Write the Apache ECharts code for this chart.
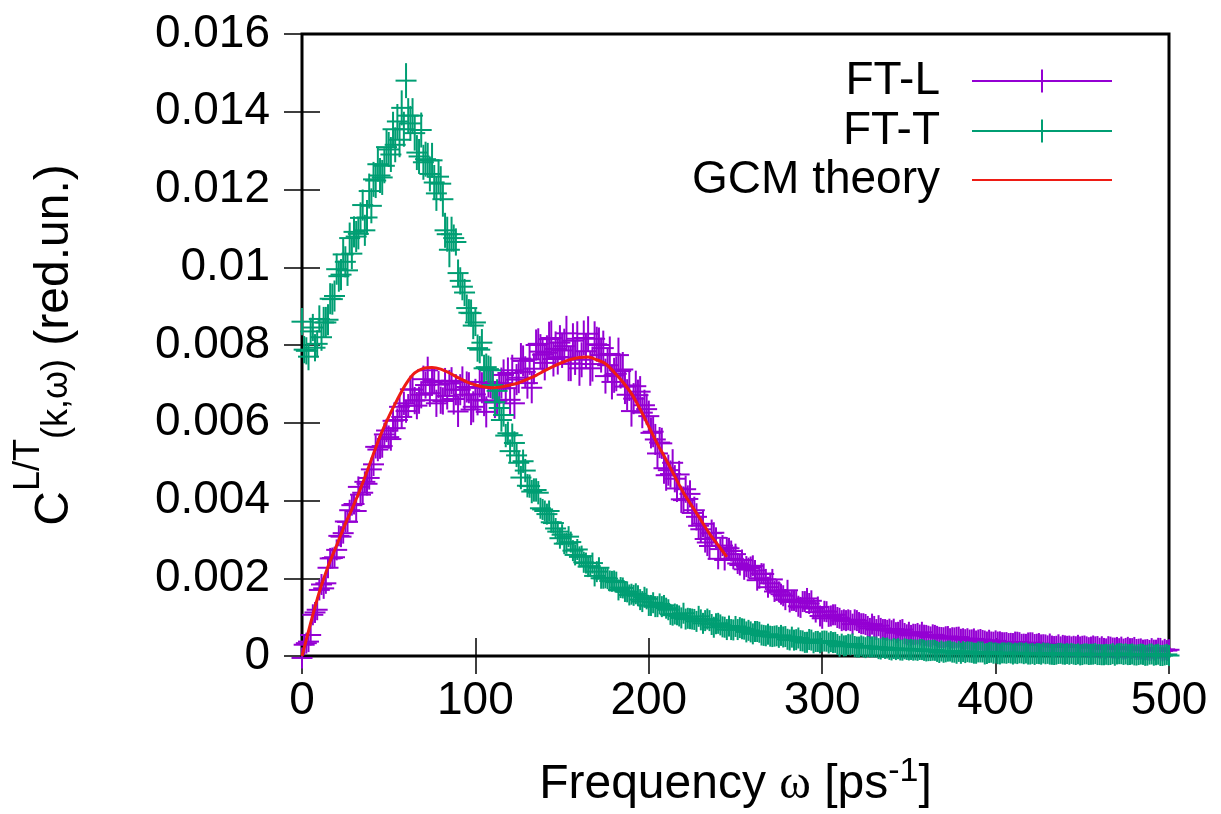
<!DOCTYPE html>
<html>
<head>
<meta charset="utf-8">
<title>C L/T (k,w) spectra</title>
<script src="https://cdn.jsdelivr.net/npm/echarts@6/dist/echarts.min.js"></script>
<style>
html, body { margin: 0; padding: 0; background: #fff; }
#chart { width: 1221px; height: 814px; }
</style>
</head>
<body>
<div id="chart"></div>
<script>
// MD spectra, values in units of 1e-3 (red.un.)
// main arrays sampled at 0, 2.5, 5 ... 500 ps^-1, "Half" arrays at 1.25, 3.75 ... 498.75
var omegaStep = 2.5;
var UNIT = 1e-3;

var ftL = [
  -0.05, 0.33, 0.54, 1.12, 1.7, 1.74, 2.27, 2.52, 2.73, 3.07,
  3.46, 3.75, 3.91, 4.35, 4.2, 4.43, 4.8, 5.38, 5.37, 5.7,
  5.63, 6.05, 6.07, 6.15, 6.3, 6.86, 6.57, 6.58, 7.12, 7.35,
  7.04, 6.5, 6.58, 7.06, 7.01, 6.61, 6.29, 7.05, 6.92, 6.34,
  6.73, 7.05, 6.57, 7.05, 7.0, 6.57, 7.02, 6.89, 6.59, 6.5,
  7.16, 7.59, 7.02, 6.9, 8.0, 7.83, 7.54, 8.15, 7.64, 7.69,
  7.86, 8.3, 7.52, 7.68, 7.4, 8.18, 8.29, 7.51, 8.02, 7.74,
  7.2, 7.77, 7.22, 7.74, 7.37, 6.72, 6.3, 6.94, 6.8, 6.45,
  6.17, 5.77, 5.21, 5.47, 4.65, 4.68, 4.56, 4.67, 4.01, 4.04,
  3.68, 3.58, 3.26, 3.01, 2.83, 3.17, 2.5, 2.84, 2.79, 2.7,
  2.62, 2.34, 2.23, 2.26, 2.32, 1.95, 2.12, 1.97, 1.87, 1.66,
  1.65, 1.55, 1.69, 1.43, 1.4, 1.25, 1.4, 1.35, 1.22, 1.26,
  0.97, 1.14, 1.03, 1.06, 0.97, 0.93, 0.93, 0.82, 0.91, 0.83,
  0.81, 0.71, 0.76, 0.78, 0.68, 0.66, 0.65, 0.6, 0.66, 0.58,
  0.61, 0.56, 0.58, 0.61, 0.53, 0.49, 0.53, 0.48, 0.47, 0.5,
  0.47, 0.48, 0.43, 0.42, 0.41, 0.44, 0.41, 0.4, 0.36, 0.36,
  0.39, 0.365, 0.34, 0.32, 0.32, 0.355, 0.3, 0.3, 0.34, 0.295,
  0.32, 0.29, 0.26, 0.255, 0.25, 0.235, 0.26, 0.255, 0.25, 0.275,
  0.25, 0.235, 0.23, 0.235, 0.2, 0.195, 0.24, 0.205, 0.22, 0.228,
  0.195, 0.19, 0.22, 0.175, 0.15, 0.165, 0.19, 0.15, 0.195, 0.17,
  0.16
];
var ftLHalf = [
  0.29, 0.37, 1.06, 1.19, 1.84, 1.87, 2.51, 2.54, 3.09, 3.16,
  3.45, 3.88, 3.73, 4.15, 4.48, 4.58, 4.93, 5.31, 5.4, 5.8,
  5.58, 5.86, 6.41, 6.5, 6.44, 6.85, 6.44, 6.72, 6.97, 6.76,
  7.08, 6.98, 6.56, 6.69, 7.08, 6.85, 6.85, 6.72, 6.9, 6.41,
  6.59, 6.9, 6.28, 7.03, 6.52, 6.88, 7.23, 7.28, 7.35, 7.11,
  7.65, 7.31, 7.63, 7.39, 8.03, 7.75, 7.8, 8.18, 7.9, 8.06,
  7.97, 7.52, 8.11, 8.16, 7.62, 7.84, 7.4, 8.16, 8.0, 7.92,
  7.48, 7.05, 7.26, 7.33, 6.93, 6.96, 6.62, 6.71, 6.26, 6.35,
  5.74, 5.57, 5.49, 4.83, 4.78, 4.97, 4.31, 4.03, 4.29, 4.17,
  3.75, 3.35, 3.4, 2.92, 3.16, 3.04, 2.75, 2.47, 2.77, 2.5,
  2.38, 2.47, 2.3, 2.29, 2.2, 2.0, 2.11, 1.77, 1.97, 1.69,
  1.59, 1.45, 1.39, 1.43, 1.28, 1.4, 1.48, 1.42, 1.13, 1.03,
  1.15, 1.02, 1.06, 0.99, 0.91, 0.91, 0.91, 0.93, 0.86, 0.83,
  0.76, 0.82, 0.68, 0.71, 0.68, 0.69, 0.69, 0.61, 0.68, 0.545,
  0.53, 0.555, 0.54, 0.535, 0.51, 0.545, 0.505, 0.475, 0.495, 0.445,
  0.465, 0.485, 0.445, 0.445, 0.415, 0.385, 0.425, 0.385, 0.405, 0.355,
  0.358, 0.343, 0.345, 0.325, 0.358, 0.343, 0.305, 0.335, 0.338, 0.303,
  0.285, 0.285, 0.308, 0.243, 0.288, 0.273, 0.248, 0.233, 0.238, 0.233,
  0.258, 0.213, 0.258, 0.243, 0.238, 0.183, 0.228, 0.203, 0.189, 0.177,
  0.223, 0.19, 0.168, 0.183, 0.158, 0.143, 0.15, 0.198, 0.133, 0.14
];

var ftT = [
  8.6, 7.85, 8.35, 7.93, 8.67, 8.58, 8.65, 9.18, 9.95, 9.81,
  10.14, 10.75, 10.91, 10.86, 11.6, 11.28, 11.58, 12.23, 12.36, 12.61,
  13.03, 13.55, 13.75, 14.1, 14.8, 13.7, 13.45, 12.85, 12.7, 12.75,
  12.75, 11.9, 12.15, 10.95, 10.45, 10.75, 9.85, 9.5, 8.95, 8.82,
  8.58, 7.88, 7.4, 7.38, 6.97, 6.82, 6.07, 5.67, 5.27, 5.48,
  4.97, 5.01, 4.38, 4.23, 4.27, 3.8, 3.73, 3.73, 3.42, 3.2,
  3.12, 2.9, 2.93, 2.6, 2.55, 2.41, 2.3, 2.39, 2.17, 2.0,
  2.01, 1.93, 1.93, 1.7, 1.75, 1.65, 1.59, 1.6, 1.45, 1.51,
  1.3, 1.37, 1.27, 1.27, 1.23, 1.07, 1.08, 1.03, 1.1, 0.97,
  0.95, 0.89, 0.93, 0.91, 0.91, 0.74, 0.84, 0.75, 0.68, 0.68,
  0.76, 0.73, 0.69, 0.66, 0.57, 0.63, 0.54, 0.52, 0.51, 0.51,
  0.48, 0.49, 0.43, 0.485, 0.42, 0.395, 0.35, 0.425, 0.34, 0.375,
  0.38, 0.38, 0.37, 0.35, 0.25, 0.26, 0.3, 0.31, 0.23, 0.26,
  0.215, 0.23, 0.23, 0.19, 0.22, 0.205, 0.155, 0.165, 0.155, 0.185,
  0.155, 0.15, 0.145, 0.165, 0.13, 0.14, 0.145, 0.09, 0.095, 0.125,
  0.1, 0.07, 0.07, 0.088, 0.1, 0.072, 0.105, 0.103, 0.065, 0.097,
  0.08, 0.053, 0.079, 0.087, 0.05, 0.062, 0.079, 0.078, 0.05, 0.04,
  0.061, 0.078, 0.068, 0.044, 0.047, 0.069, 0.045, 0.044, 0.048, 0.056,
  0.037, 0.054, 0.044, 0.061, 0.037, 0.032, 0.035, 0.061, 0.051, 0.059,
  0.054, 0.039, 0.029, 0.037, 0.041, 0.022, 0.052, 0.033, 0.014, 0.027,
  0.012
];
var ftTHalf = [
  7.88, 7.7, 8.45, 8.03, 8.2, 8.58, 9.19, 9.26, 9.77, 10.33,
  9.92, 10.35, 10.79, 11.27, 10.95, 11.96, 12.26, 12.65, 12.31, 13.09,
  12.9, 13.15, 13.28, 13.55, 13.9, 13.9, 12.95, 13.53, 12.78, 12.4,
  12.18, 12.33, 11.75, 10.85, 10.85, 10.65, 9.65, 9.35, 8.83, 8.5,
  7.92, 8.06, 7.43, 7.35, 6.53, 6.38, 6.2, 5.73, 5.68, 5.16,
  4.59, 4.77, 4.37, 4.27, 4.2, 3.77, 3.65, 3.44, 3.28, 3.03,
  2.89, 3.07, 2.71, 2.74, 2.57, 2.39, 2.31, 2.06, 2.27, 2.0,
  1.99, 1.92, 1.9, 1.76, 1.66, 1.57, 1.56, 1.55, 1.4, 1.47,
  1.3, 1.27, 1.34, 1.3, 1.19, 1.05, 1.06, 0.98, 0.95, 0.96,
  0.94, 1.02, 0.84, 0.95, 0.81, 0.83, 0.8, 0.74, 0.77, 0.67,
  0.68, 0.7, 0.62, 0.62, 0.63, 0.61, 0.53, 0.56, 0.5, 0.52,
  0.53, 0.5, 0.413, 0.408, 0.463, 0.388, 0.353, 0.408, 0.373, 0.338,
  0.385, 0.335, 0.345, 0.295, 0.305, 0.265, 0.285, 0.245, 0.23, 0.235,
  0.245, 0.235, 0.23, 0.18, 0.195, 0.17, 0.193, 0.188, 0.15, 0.168,
  0.168, 0.158, 0.168, 0.145, 0.138, 0.148, 0.118, 0.128, 0.108, 0.128,
  0.098, 0.118, 0.114, 0.112, 0.094, 0.071, 0.104, 0.052, 0.089, 0.071,
  0.059, 0.08, 0.07, 0.077, 0.075, 0.083, 0.06, 0.05, 0.067, 0.066,
  0.047, 0.058, 0.048, 0.038, 0.064, 0.05, 0.062, 0.066, 0.038, 0.028,
  0.054, 0.039, 0.047, 0.037, 0.032, 0.044, 0.039, 0.02, 0.059, 0.04,
  0.035, 0.052, 0.024, 0.05, 0.017, 0.048, 0.02, 0.046, 0.013, 0.04
];

// error bar half heights, one per 25 ps^-1 block (0, 25, ... 500), units 1e-3
var ftLErr = [0.15, 0.25, 0.3, 0.35, 0.4, 0.4, 0.45, 0.45, 0.4, 0.35, 0.25, 0.2, 0.15, 0.1, 0.08, 0.06, 0.05, 0.04, 0.03, 0.03, 0.03];
var ftTErr = [0.35, 0.4, 0.45, 0.45, 0.35, 0.3, 0.25, 0.2, 0.15, 0.1, 0.08, 0.06, 0.05, 0.04, 0.03, 0.03, 0.03, 0.02, 0.02, 0.02, 0.02];

// GCM theory curve
var gcmOmega = [0, 5, 10, 15, 20, 25, 30, 35, 40, 45, 50, 55, 60, 65, 70, 75, 80, 85, 90, 95,
  100, 105, 110, 115, 120, 125, 130, 135, 140, 145, 150, 155, 160, 165, 170, 175, 180, 185, 190, 195,
  200, 205, 210, 215, 220, 225, 230, 235, 240, 245];
var gcmValue = [0, 0.85, 1.65, 2.3, 2.85, 3.4, 3.9, 4.45, 5.05, 5.65, 6.15, 6.6, 7.0, 7.28, 7.4, 7.42, 7.38, 7.28, 7.16, 7.05,
  6.97, 6.92, 6.9, 6.92, 6.97, 7.03, 7.12, 7.22, 7.34, 7.45, 7.55, 7.63, 7.68, 7.69, 7.62, 7.52, 7.3, 7.05, 6.75, 6.35,
  5.9, 5.45, 5.05, 4.62, 4.2, 3.85, 3.5, 3.15, 2.85, 2.55];

var FONT = '"Liberation Sans", Arial, Helvetica, sans-serif';
var colL = '#9400d3', colT = '#009e73', colG = '#ee1c14';

function toPoints(vals, half, errs) {
  var pts = [];
  function push(w, v) {
    pts.push([w, v * UNIT, errs[Math.round(w / 25)] * UNIT]);
  }
  vals.forEach(function (v, i) { push(i * omegaStep, v); });
  half.forEach(function (v, i) { push((i + 0.5) * omegaStep, v); });
  return pts;
}

// gnuplot-like "+" point with vertical error bar
function crossRenderer(color) {
  return function (params, api) {
    var w = api.value(0), v = api.value(1), e = api.value(2);
    var c = api.coord([w, v]);
    var hi = api.coord([w, v + e]);
    var lo = api.coord([w, v - e]);
    var arm = 10.5;
    var st = { stroke: color, lineWidth: 2 };
    return {
      type: 'group',
      children: [
        { type: 'line', shape: { x1: c[0] - arm, y1: c[1], x2: c[0] + arm, y2: c[1] }, style: st },
        { type: 'line', shape: { x1: c[0], y1: Math.min(hi[1], c[1] - arm), x2: c[0], y2: Math.max(lo[1], c[1] + arm) }, style: st }
      ]
    };
  };
}

var crossIcon = 'path://M0,0h0.01v0.01h-0.01Z M27,10.5h140v2h-140Z M96,0h2v23h-2Z';
var lineIcon = 'path://M0,0h0.01v0.01h-0.01Z M27,10.5h140v2h-140Z M0,22.99h0.01v0.01h-0.01Z';

function legendItem(name, icon, top) {
  return {
    data: [name],
    right: 109,
    top: top,
    align: 'right',
    padding: 0,
    icon: icon,
    itemWidth: 167,
    itemHeight: 23,
    selectedMode: false,
    textStyle: { fontFamily: FONT, fontSize: 46, color: '#000' }
  };
}

var tickStyle = { show: true, inside: true, length: 18, lineStyle: { color: '#000', width: 1.5 } };

var chart = echarts.init(document.getElementById('chart'), null, { renderer: 'canvas' });
var option = {
  animation: false,
  backgroundColor: '#fff',
  grid: {
    left: 302, top: 34, width: 867, height: 623,
    show: true, borderColor: '#000', borderWidth: 3, backgroundColor: 'transparent'
  },
  legend: [
    legendItem('FT-L', crossIcon, 58),
    legendItem('FT-T', crossIcon, 108),
    legendItem('GCM theory', lineIcon, 157)
  ],
  xAxis: [{
    type: 'value', min: 0, max: 500, interval: 100, position: 'bottom',
    axisLine: { show: false },
    axisTick: tickStyle,
    splitLine: { show: false },
    axisLabel: { fontFamily: FONT, fontSize: 46, color: '#000', margin: 22 },
    name: '{t|Frequency }{w|ω}{t| [ps}{s|-1}{t|]}',
    nameLocation: 'middle',
    nameGap: 99,
    nameTextStyle: {
      fontFamily: FONT, color: '#000',
      rich: {
        t: { fontFamily: FONT, fontSize: 48, lineHeight: 60, color: '#000' },
        w: { fontFamily: '"Liberation Serif", "DejaVu Serif", serif', fontSize: 48, lineHeight: 60, color: '#000' },
        s: { fontFamily: FONT, fontSize: 34, lineHeight: 28, verticalAlign: 'top', color: '#000' }
      }
    }
  }, {
    type: 'value', min: 0, max: 500, interval: 100, position: 'top',
    axisLine: { show: false }, axisTick: tickStyle,
    axisLabel: { show: false }, splitLine: { show: false }
  }],
  yAxis: [{
    type: 'value', min: 0, max: 0.016, interval: 0.002, position: 'left',
    axisLine: { show: false },
    axisTick: tickStyle,
    splitLine: { show: false },
    axisLabel: { fontFamily: FONT, fontSize: 46, color: '#000', margin: 32 },
    name: '{m|C}{sup|L/T}{sub|(k,ω)}{m| (red.un.)}',
    nameLocation: 'middle',
    nameRotate: 90,
    nameGap: 203,
    nameTextStyle: {
      fontFamily: FONT, color: '#000',
      rich: {
        m: { fontFamily: FONT, fontSize: 48, lineHeight: 88, color: '#000' },
        sup: { fontFamily: FONT, fontSize: 36, lineHeight: 40, verticalAlign: 'top', color: '#000' },
        sub: { fontFamily: FONT, fontSize: 36, padding: [4, 0, 0, 0], color: '#000' }
      }
    }
  }, {
    type: 'value', min: 0, max: 0.016, interval: 0.002, position: 'right',
    axisLine: { show: false }, axisTick: tickStyle,
    axisLabel: { show: false }, splitLine: { show: false }
  }],
  series: [
    {
      name: 'FT-L', type: 'custom', clip: false, z: 2,
      itemStyle: { color: colL },
      renderItem: crossRenderer(colL),
      data: toPoints(ftL, ftLHalf, ftLErr)
    },
    {
      name: 'FT-T', type: 'custom', clip: false, z: 3,
      itemStyle: { color: colT },
      renderItem: crossRenderer(colT),
      data: toPoints(ftT, ftTHalf, ftTErr)
    },
    {
      name: 'GCM theory', type: 'line', z: 4,
      showSymbol: false, smooth: 0.3,
      itemStyle: { color: colG },
      lineStyle: { color: colG, width: 3 },
      data: gcmOmega.map(function (w, i) { return [w, gcmValue[i] * UNIT]; })
    }
  ]
};
chart.setOption(option);
</script>
</body>
</html>
